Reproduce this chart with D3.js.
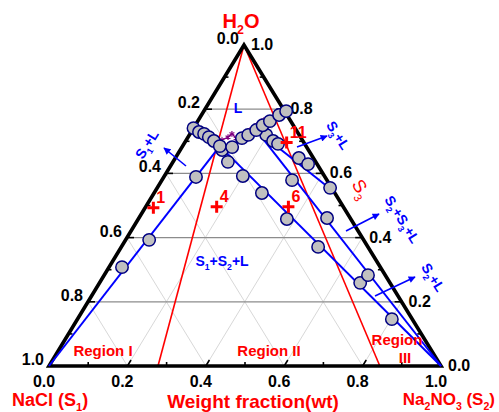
<!DOCTYPE html>
<html><head><meta charset="utf-8">
<script src="https://cdn.jsdelivr.net/npm/d3@7"></script>
<style>body{margin:0;background:#fff} svg{display:block;font-family:Arial,"Liberation Sans",sans-serif}</style>
</head><body><svg id="c" width="499" height="412"></svg>
<script>
// ---------------- DATA (mass fractions: [Na2NO3, H2O]; NaCl = 1 - both) ----------------
const ticks = [0, 0.2, 0.4, 0.6, 0.8, 1.0];
const tickLabels = ["0.0", "0.2", "0.4", "0.6", "0.8", "1.0"];
const minorTicks = [0.1, 0.3, 0.5, 0.7, 0.9];

// liquid phase (solubility isotherm) points
const solubility = [
  [0.000, 0.741], [0.020, 0.729], [0.036, 0.723], [0.053, 0.713], [0.072, 0.701],
  [0.095, 0.685], [0.128, 0.682], [0.139, 0.710], [0.150, 0.720], [0.163, 0.735],
  [0.172, 0.750], [0.184, 0.763], [0.198, 0.782], [0.210, 0.794]
];
// literature isotherm (purple)
const literature = [
  [0.000, 0.745], [0.022, 0.735], [0.045, 0.726], [0.069, 0.713], [0.091, 0.704],
  [0.102, 0.713], [0.107, 0.723], [0.124, 0.710], [0.137, 0.720], [0.147, 0.735],
  [0.157, 0.751], [0.167, 0.766]
];
// wet residue / tie-line points
const residuesS1 = [[0.033, 0.308], [0.060, 0.393], [0.082, 0.589]];
const residuesE1S2 = [[0.107, 0.673], [0.140, 0.636], [0.200, 0.592], [0.275, 0.539], [0.379, 0.458], [0.502, 0.371], [0.665, 0.259], [0.802, 0.146]];
const residuesE2S2 = [[0.332, 0.579], [0.480, 0.461], [0.673, 0.283]];
const residuesE2S3 = [[0.196, 0.720], [0.223, 0.701], [0.240, 0.692], [0.315, 0.648], [0.348, 0.629], [0.441, 0.555]];

const invariantE1 = [0.095, 0.685];
const invariantE2 = [0.163, 0.735];
const solidS1 = [0, 0], solidS2 = [1, 0], solidS3 = [0.458, 0.542];
const boundaryLines = [[invariantE1, solidS1], [invariantE1, solidS2], [invariantE2, solidS2], [invariantE2, solidS3]];
const regionLines = [[[0, 1], [0.278, 0]], [[0, 1], [0.844, 0]]];

const sampleIds = ["1", "4", "6", "11"];
const samplePoints = [[0.021, 0.493], [0.181, 0.496], [0.364, 0.496], [0.260, 0.696]];

// ---------------- SCALES ----------------
const svg = d3.select("#c");
const xS2 = d3.scaleLinear().domain([0, 1]).range([49, 441]);
const xW = d3.scaleLinear().domain([0, 1]).range([0, 195]);
const yW = d3.scaleLinear().domain([0, 1]).range([366, 45]);
const P = d => [xS2(d[0]) + xW(d[1]), yW(d[1])];
const line = d3.line().x(d => P(d)[0]).y(d => P(d)[1]);

// ---------------- GRID ----------------
const grid = svg.append("g");
[0.2, 0.4, 0.6, 0.8].forEach(v => {
  grid.append("path").attr("d", line([[v, 0], [v, 1 - v]])).attr("stroke", "#d8d8d8").attr("stroke-width", 1).attr("fill", "none");
  grid.append("path").attr("d", line([[1 - v, 0], [0, 1 - v]])).attr("stroke", "#d8d8d8").attr("stroke-width", 1).attr("fill", "none");
});
[0.2, 0.4, 0.6, 0.8].forEach(v => {
  grid.append("path").attr("d", line([[0, v], [1 - v, v]])).attr("stroke", "#8c8c8c").attr("stroke-width", 1.2).attr("fill", "none");
});

// ---------------- RED REGION LINES ----------------
regionLines.forEach(l => svg.append("path").attr("d", line(l)).attr("stroke", "#ff0000").attr("stroke-width", 1.6).attr("fill", "none"));

// ---------------- TRIANGLE EDGES + TICKS ----------------
svg.append("path").attr("d", line([[0, 0], [1, 0], [0, 1]]) + "Z")
  .attr("fill", "none").attr("stroke", "#000").attr("stroke-width", 3.6).attr("stroke-linejoin", "miter");

const tk = svg.append("g").attr("stroke", "#000").attr("stroke-width", 1.6);
const up = [xW(1) / 375.6 , (yW(1) - yW(0)) / 375.6];
ticks.slice(1, 5).forEach(v => {
  let b = P([v, 0]);
  tk.append("line").attr("x1", b[0]).attr("y1", b[1]).attr("x2", b[0] + up[0] * 7).attr("y2", b[1] + up[1] * 7);
  let l = P([0, 1 - v]);
  tk.append("line").attr("x1", l[0]).attr("y1", l[1]).attr("x2", l[0] + 7).attr("y2", l[1]);
  let r = P([v, 1 - v]);
  tk.append("line").attr("x1", r[0]).attr("y1", r[1]).attr("x2", r[0] - 7).attr("y2", r[1]);
});
minorTicks.forEach(v => {
  let b = P([v, 0]);
  tk.append("line").attr("x1", b[0]).attr("y1", b[1]).attr("x2", b[0]).attr("y2", b[1] - 4);
  let l = P([0, 1 - v]);
  tk.append("line").attr("x1", l[0]).attr("y1", l[1]).attr("x2", l[0] + 4).attr("y2", l[1]);
  let r = P([v, 1 - v]);
  tk.append("line").attr("x1", r[0]).attr("y1", r[1]).attr("x2", r[0] - 4).attr("y2", r[1]);
});

// tick labels
const tl = svg.append("g").attr("font-weight", "bold").attr("font-size", 16).attr("fill", "#000");
ticks.forEach((v, i) => {
  let b = P([v, 0]);
  tl.append("text").attr("x", b[0] - 5).attr("y", 387).attr("text-anchor", "middle").text(tickLabels[i]);
  let l = P([0, 1 - v]);
  tl.append("text").attr("x", l[0] - 5).attr("y", l[1] - 1).attr("text-anchor", "end").text(tickLabels[i]);
  let r = P([1 - v, v]);
  tl.append("text").attr("x", r[0] + 7).attr("y", r[1] + 5).attr("text-anchor", "start").text(tickLabels[i]);
});

// ---------------- BLUE PHASE BOUNDARIES ----------------
boundaryLines.forEach(l => svg.append("path").attr("d", line(l)).attr("stroke", "#0000ff").attr("stroke-width", 2).attr("fill", "none"));

// literature curve (purple)
svg.append("path").attr("d", line(literature)).attr("stroke", "#800080").attr("stroke-width", 1.3).attr("fill", "none");
const sym = d3.symbol().type(d3.symbolAsterisk || d3.symbolCross).size(22);
svg.append("g").selectAll("path").data(literature).join("path")
  .attr("transform", d => `translate(${P(d)[0]},${P(d)[1]})`).attr("d", sym())
  .attr("stroke", "#800080").attr("stroke-width", 1.2).attr("fill", "#800080");

svg.append("path").attr("d", line(solubility)).attr("stroke", "#0000ff").attr("stroke-width", 2.2).attr("fill", "none");

// circles
const allCircles = [].concat(residuesS1, residuesE1S2, residuesE2S2, residuesE2S3, solubility);
svg.append("g").selectAll("circle").data(allCircles).join("circle")
  .attr("cx", d => P(d)[0]).attr("cy", d => P(d)[1]).attr("r", 6.2)
  .attr("fill", "#c0c0c0").attr("stroke", "#000080").attr("stroke-width", 1.5);

// ---------------- SAMPLE CROSSES ----------------
const sg = svg.append("g");
samplePoints.forEach((d, i) => {
  const [x, y] = P(d);
  sg.append("path").attr("d", `M${x - 6},${y}H${x + 6}M${x},${y - 6}V${y + 6}`).attr("stroke", "#ff0000").attr("stroke-width", 3);
  sg.append("text").attr("x", x + 3).attr("y", y - 5).attr("fill", "#ff0000").attr("font-weight", "bold").attr("font-size", 16).text(sampleIds[i]);
});

// ---------------- ANNOTATIONS ----------------
function rich(x, y, parts, o) {
  const t = svg.append("text").attr("x", x).attr("y", y).attr("text-anchor", o.anchor || "middle")
    .attr("fill", o.fill).attr("font-size", o.size).attr("font-weight", o.weight || "bold");
  if (o.rot) t.attr("transform", `rotate(${o.rot},${x},${y})`);
  parts.forEach(p => {
    if (p[1]) t.append("tspan").attr("dy", o.size * 0.3).attr("font-size", o.size * 0.62).text(p[0]);
    else t.append("tspan").attr("dy", p[2] ? -o.size * 0.3 : 0).text(p[0]);
  });
  return t;
}
const defs = svg.append("defs");
defs.append("marker").attr("id", "ah").attr("viewBox", "0 0 10 10").attr("refX", 9).attr("refY", 5)
  .attr("markerWidth", 9).attr("markerHeight", 7).attr("markerUnits", "userSpaceOnUse").attr("orient", "auto")
  .append("path").attr("d", "M0,0L10,5L0,10Z").attr("fill", "#0000ff");
const arrows = [[186, 166, 164, 148], [297, 147, 327, 136], [346, 231, 379, 214], [375, 296, 415, 277]];
arrows.forEach(a => svg.append("line").attr("x1", a[0]).attr("y1", a[1]).attr("x2", a[2]).attr("y2", a[3])
  .attr("stroke", "#0000ff").attr("stroke-width", 1.6).attr("marker-end", "url(#ah)"));

const blue = "#0000ff", red = "#ff0000";
rich(151, 147, [["S"], ["1", 1], ["+L", 0, 1]], { fill: blue, size: 14, rot: -58 });
rich(334, 138, [["S"], ["3", 1], ["+L", 0, 1]], { fill: blue, size: 14, rot: 58 });
rich(398, 222, [["S"], ["2", 1], ["+S", 0, 1], ["3", 1], ["+L", 0, 1]], { fill: blue, size: 14, rot: 58 });
rich(429, 280, [["S"], ["2", 1], ["+L", 0, 1]], { fill: blue, size: 14, rot: 58 });
rich(356, 192, [["S"], ["3", 1]], { fill: red, size: 18, rot: 58, weight: "normal" });
rich(238, 113, [["L"]], { fill: blue, size: 14 });
rich(222, 266, [["S"], ["1", 1], ["+S", 0, 1], ["2", 1], ["+L", 0, 1]], { fill: blue, size: 14 });

rich(103, 356, [["Region I"]], { fill: red, size: 15 });
rich(269, 356, [["Region II"]], { fill: red, size: 15 });
rich(397, 345, [["Region"]], { fill: red, size: 15 });
rich(405, 363, [["III"]], { fill: red, size: 15 });

rich(241, 28, [["H"], ["2", 1], ["O", 0, 1]], { fill: red, size: 20 });
rich(12, 406, [["NaCl (S"], ["1", 1], [")", 0, 1]], { fill: red, size: 18, anchor: "start" });
rich(253, 408, [["Weight fraction(wt)"]], { fill: red, size: 19 });
rich(495, 405, [["Na"], ["2", 1], ["NO", 0, 1], ["3", 1], [" (S", 0, 1], ["2", 1], [")", 0, 1]], { fill: red, size: 17, anchor: "end" });
</script></body></html>
